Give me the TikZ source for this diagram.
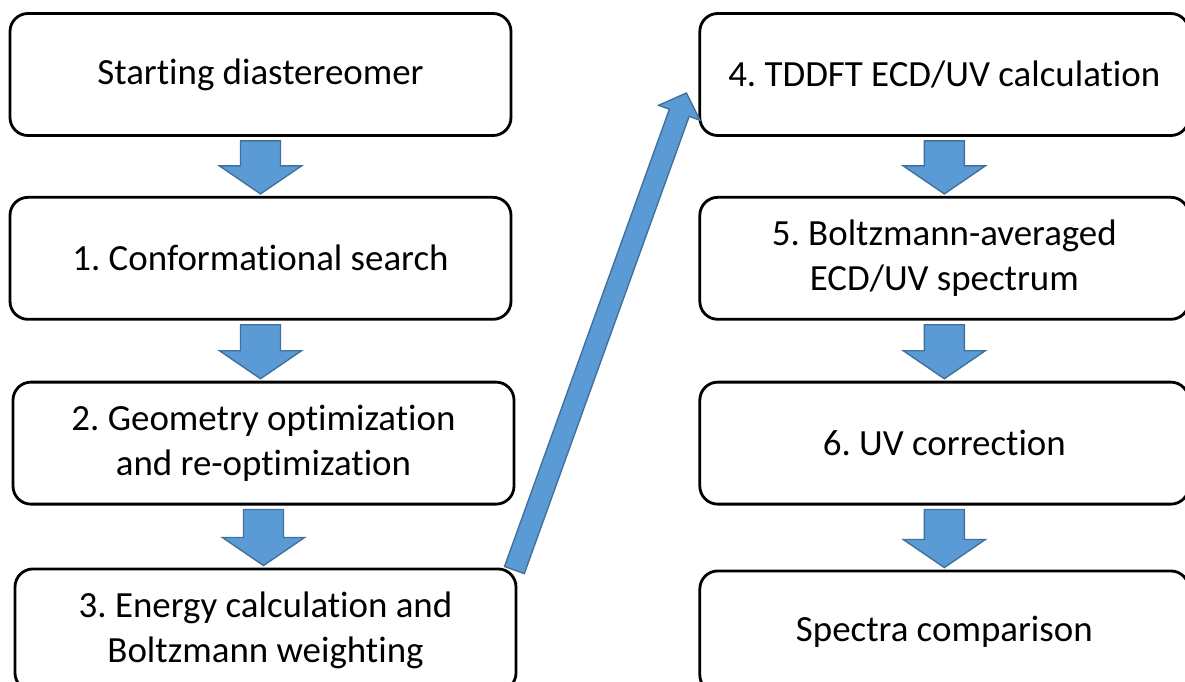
\documentclass[tikz,border=0pt]{standalone}
\usepackage{fontspec}
\setmainfont{Carlito}[Ligatures={NoCommon}]
\usetikzlibrary{positioning, calc}
\frenchspacing

\definecolor{fillblue}{HTML}{5B9BD5}
\definecolor{edgeblue}{HTML}{41719C}

% tail, tip, shaft half width, head half width, head length
\newcommand{\blockarrow}[5]{%
  \path ($(#2)!#5!(#1)$) coordinate (hb);
  \filldraw[fat] ($(#1)!#3!90:(#2)$) -- ($(hb)!#3!-90:(#1)$) -- ($(hb)!#4!-90:(#1)$) -- (#2)
    -- ($(hb)!#4!90:(#1)$) -- ($(hb)!#3!90:(#1)$) -- ($(#1)!#3!-90:(#2)$) -- cycle;
}

\begin{document}
\begin{tikzpicture}[
  box/.style={draw, line width=1.6pt, rounded corners=0.36cm, minimum width=10.02cm,
              minimum height=2.44cm, align=center,
              font=\fontsize{21}{25.6}\selectfont},
  rbox/.style={box, minimum width=9.78cm},
  fat/.style={fill=fillblue, draw=edgeblue, line width=0.8pt, line join=miter}
]
  \useasboundingbox (0,0) rectangle (23.7,-13.62);

  \node[box] (start) at (5.21,-1.49) {Starting diastereomer};
  \node[box, below=1.18cm of start] (conf) {1. Conformational search};
  \node[box, below=1.2cm of conf, xshift=0.06cm] (geom)
        {2. Geometry optimization\\and re-optimization};
  \node[box, below=1.24cm of geom, xshift=0.04cm] (energy)
        {3. Energy calculation and\\Boltzmann weighting};

  \node[rbox, right=3.72cm of start] (tddft) {4. TDDFT ECD/UV calculation};
  \node[rbox, below=1.18cm of tddft] (boltz) {5. Boltzmann-averaged\\ECD/UV spectrum};
  \node[rbox, below=1.2cm of boltz]  (uvcorr) {6. UV correction};
  \node[rbox, below=1.28cm of uvcorr] (comp) {Spectra comparison};

  % block arrows down the columns
  \foreach \a/\b in {start/conf, conf/geom, geom/energy,
                     tddft/boltz, boltz/uvcorr, uvcorr/comp} {
    \coordinate (t) at ($(\a.south)+(0,-0.08)$);
    \coordinate (h) at ($(t |- \b.north)+(0,0.04)$);
    \blockarrow{t}{h}{0.4cm}{0.82cm}{0.56cm}
  }

  % jump to the second column
  \coordinate (jt) at ($(energy.north east)+(-0.06,-0.05)$);
  \coordinate (jh) at ($(tddft.west)+(-0.24,-0.37)$);
  \blockarrow{jt}{jh}{0.21cm}{0.44cm}{0.42cm}
\end{tikzpicture}
\end{document}
